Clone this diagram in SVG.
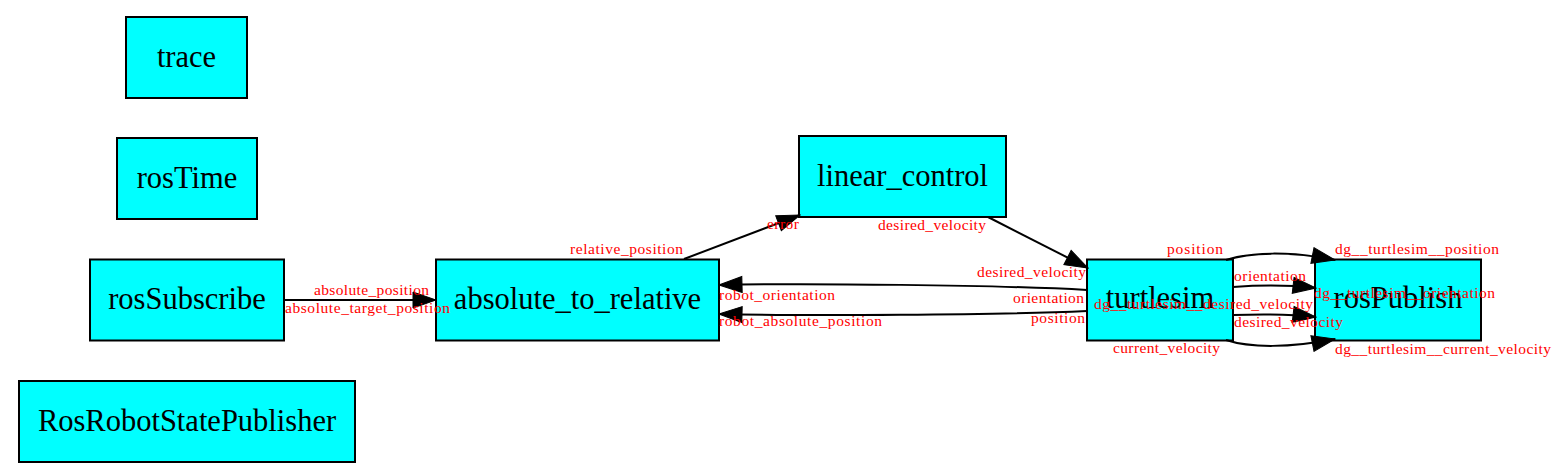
<svg xmlns="http://www.w3.org/2000/svg" width="1566" height="473" viewBox="0 0 1566 473">
<style>
.node rect{fill:#00ffff;stroke:#000;stroke-width:2}
.node text{font-family:"Liberation Serif","Times New Roman",serif;font-size:30.5px;fill:#000;text-anchor:middle}
.edge path{fill:none;stroke:#000;stroke-width:2}
.lbl{font-family:"Liberation Serif","Times New Roman",serif;font-size:15.5px;fill:#ff0000}
</style>
<defs>
<marker id="arr" markerUnits="userSpaceOnUse" markerWidth="25" markerHeight="18" viewBox="0 0 25 18" refX="24" refY="9" orient="auto">
<path d="M1,1 L24,9 L1,17 z" fill="#000" stroke="#000" stroke-width="1"/>
</marker>
</defs>
<rect width="1566" height="473" fill="#fff"/>
<g id="trace" class="node"><rect x="126" y="17" width="121" height="81"/><text x="186.5" y="66.5">trace</text></g>
<g id="rosTime" class="node"><rect x="117" y="138" width="140" height="81"/><text x="187" y="187.5">rosTime</text></g>
<g id="rosSubscribe" class="node"><rect x="90" y="259.5" width="194" height="81"/><text x="187" y="309">rosSubscribe</text></g>
<g id="RosRobotStatePublisher" class="node"><rect x="19" y="381" width="336" height="81"/><text x="187" y="430.5">RosRobotStatePublisher</text></g>
<g id="absolute_to_relative" class="node"><rect x="436" y="259.5" width="283" height="81"/><text x="577.5" y="309">absolute_to_relative</text></g>
<g id="linear_control" class="node"><rect x="799" y="136" width="207" height="81"/><text x="902.5" y="185.5">linear_control</text></g>
<g id="turtlesim" class="node"><rect x="1087" y="259.5" width="146" height="81"/><text x="1160" y="308">turtlesim</text></g>
<g id="rosPublish" class="node"><rect x="1315" y="259.5" width="166" height="81"/><text x="1398" y="308">rosPublish</text></g>
<g id="connectors" class="edge">
<path d="M284,300 L436,300" marker-end="url(#arr)"/>
<path d="M684,259 L800,215" marker-end="url(#arr)"/>
<path d="M988,217 L1088,268" marker-end="url(#arr)"/>
<path d="M1087,290 C1000,285 800,283 719,285" marker-end="url(#arr)"/>
<path d="M1087,311 C1000,315 800,316 719,314" marker-end="url(#arr)"/>
<path d="M1226,260 C1250,252 1290,251 1335,260" marker-end="url(#arr)"/>
<path d="M1233,287 C1260,285 1290,285 1316,288" marker-end="url(#arr)"/>
<path d="M1233,315 C1260,314 1290,314 1316,317" marker-end="url(#arr)"/>
<path d="M1226,340 C1250,348 1290,348 1335,339" marker-end="url(#arr)"/>
<g id="edge-labels">
<text class="lbl" x="314" y="295" textLength="115" lengthAdjust="spacing">absolute_position</text>
<text class="lbl" x="285" y="313" textLength="165" lengthAdjust="spacing">absolute_target_position</text>
<text class="lbl" x="570" y="254" textLength="113" lengthAdjust="spacing">relative_position</text>
<text class="lbl" x="767" y="229" textLength="32" lengthAdjust="spacing">error</text>
<text class="lbl" x="878" y="230" textLength="108" lengthAdjust="spacing">desired_velocity</text>
<text class="lbl" x="977" y="277" textLength="109" lengthAdjust="spacing">desired_velocity</text>
<text class="lbl" x="719" y="300" textLength="116" lengthAdjust="spacing">robot_orientation</text>
<text class="lbl" x="1013" y="303" textLength="71" lengthAdjust="spacing">orientation</text>
<text class="lbl" x="719" y="326" textLength="163" lengthAdjust="spacing">robot_absolute_position</text>
<text class="lbl" x="1031" y="323" textLength="54" lengthAdjust="spacing">position</text>
<text class="lbl" x="1167" y="254" textLength="56" lengthAdjust="spacing">position</text>
<text class="lbl" x="1335" y="254" textLength="164" lengthAdjust="spacing">dg__turtlesim__position</text>
<text class="lbl" x="1234" y="281" textLength="72" lengthAdjust="spacing">orientation</text>
<text class="lbl" x="1314" y="298" textLength="181" lengthAdjust="spacing">dg__turtlesim__orientation</text>
<text class="lbl" x="1094" y="309" textLength="219" lengthAdjust="spacing">dg__turtlesim__desired_velocity</text>
<text class="lbl" x="1234" y="327" textLength="109" lengthAdjust="spacing">desired_velocity</text>
<text class="lbl" x="1113" y="353" textLength="107" lengthAdjust="spacing">current_velocity</text>
<text class="lbl" x="1335" y="354" textLength="216" lengthAdjust="spacing">dg__turtlesim__current_velocity</text>
</g>
</g>
</svg>
